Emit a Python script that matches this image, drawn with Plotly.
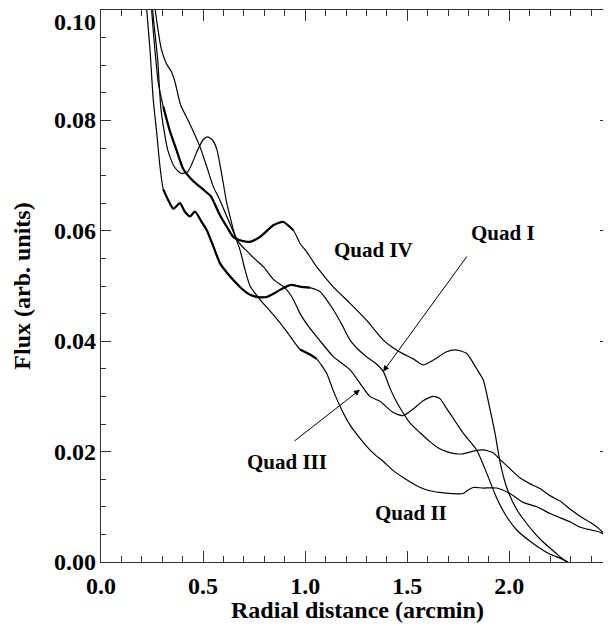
import plotly.graph_objects as go

# ---- data ----
quad4_x = [0.242, 0.248, 0.264, 0.281, 0.305, 0.338, 0.37, 0.403, 0.452, 0.50, 0.539, 0.58, 0.62, 0.648, 0.68,
           0.73, 0.779, 0.844, 0.893, 0.942, 0.975, 1.007, 1.056, 1.136, 1.219, 1.30, 1.383, 1.43, 1.48, 1.53,
           1.578, 1.628, 1.693, 1.742, 1.79, 1.84, 1.872, 1.905, 1.93, 1.954, 1.987, 2.036, 2.08, 2.117, 2.16,
           2.20, 2.24, 2.28]
quad4_y = [0.104, 0.100, 0.0928, 0.0867, 0.0825, 0.078, 0.0746, 0.0712, 0.069, 0.0675, 0.0662, 0.063, 0.0605,
           0.0589, 0.0583, 0.058, 0.0589, 0.061, 0.0616, 0.0601, 0.0577, 0.0562, 0.0535, 0.0499, 0.0469, 0.0438,
           0.0402, 0.0388, 0.0377, 0.0368, 0.0357, 0.0366, 0.0381, 0.0384, 0.0378, 0.0350, 0.0330, 0.0277, 0.0233,
           0.0182, 0.0135, 0.0095, 0.0072, 0.0055, 0.0038, 0.0025, 0.0012, 0.0]

quad1_x = [0.218, 0.224, 0.24, 0.256, 0.273, 0.289, 0.305, 0.33, 0.354, 0.387, 0.41, 0.436, 0.46, 0.49, 0.518,
           0.55, 0.583, 0.615, 0.648, 0.69, 0.73, 0.77, 0.811, 0.85, 0.877, 0.93, 0.975, 1.023, 1.072, 1.105,
           1.138, 1.18, 1.22, 1.26, 1.30, 1.345, 1.383, 1.415, 1.448, 1.48, 1.513, 1.56, 1.611, 1.65, 1.693,
           1.74, 1.774, 1.823, 1.872, 1.921, 1.954, 2.0, 2.05, 2.10, 2.15, 2.2, 2.25, 2.3, 2.35, 2.4, 2.44,
           2.476, 2.495]
quad1_y = [0.104, 0.100, 0.0928, 0.0837, 0.0777, 0.0716, 0.0675, 0.0655, 0.064, 0.065, 0.0635, 0.0626, 0.0635,
           0.0618, 0.0601, 0.0572, 0.0541, 0.0525, 0.0511, 0.0495, 0.0484, 0.048, 0.048, 0.0487, 0.0493, 0.0502,
           0.0499, 0.0497, 0.049, 0.0475, 0.0457, 0.043, 0.0402, 0.0385, 0.0372, 0.036, 0.0345, 0.0315, 0.029,
           0.027, 0.0252, 0.0235, 0.0218, 0.0207, 0.0200, 0.0196, 0.0196, 0.0201, 0.0203, 0.0198, 0.0186, 0.017,
           0.0153, 0.0142, 0.0133, 0.0120, 0.0110, 0.0095, 0.0082, 0.0071, 0.0060, 0.0047, 0.0040]

quad2_x = [0.260, 0.266, 0.295, 0.32, 0.345, 0.362, 0.39, 0.42, 0.452, 0.485, 0.518, 0.55, 0.583, 0.616, 0.648,
           0.681, 0.705, 0.73, 0.78, 0.844, 0.909, 0.975, 1.023, 1.056, 1.105, 1.138, 1.18, 1.22, 1.26, 1.30,
           1.34, 1.383, 1.43, 1.48, 1.546, 1.60, 1.66, 1.72, 1.774, 1.80, 1.823, 1.872, 1.938, 2.003, 2.068,
           2.134, 2.199, 2.25, 2.297, 2.346, 2.40, 2.444, 2.476, 2.495]
quad2_y = [0.104, 0.100, 0.093, 0.0903, 0.0888, 0.087, 0.0828, 0.0805, 0.078, 0.0752, 0.0716, 0.068, 0.0655,
           0.0626, 0.0598, 0.0565, 0.053, 0.050, 0.0475, 0.0448, 0.0418, 0.0385, 0.0376, 0.0368, 0.0342, 0.031,
           0.0275, 0.0248, 0.0228, 0.021, 0.0195, 0.0182, 0.0166, 0.0153, 0.0138, 0.013, 0.0126, 0.0124, 0.0124,
           0.0131, 0.0135, 0.0134, 0.0134, 0.0124, 0.0108, 0.0100, 0.0088, 0.008, 0.0073, 0.0063, 0.0058, 0.0054,
           0.0047, 0.0042]

quad3_x = [0.250, 0.253, 0.278, 0.294, 0.327, 0.359, 0.392, 0.425, 0.473, 0.50, 0.522, 0.545, 0.567, 0.59,
           0.616, 0.632, 0.648, 0.665, 0.69, 0.713, 0.75, 0.795, 0.844, 0.9, 0.94, 0.975, 1.02, 1.07, 1.138,
           1.22, 1.268, 1.317, 1.366, 1.431, 1.48, 1.529, 1.578, 1.628, 1.66, 1.693, 1.735, 1.775, 1.84, 1.889,
           1.938, 1.987, 2.036, 2.1, 2.15, 2.2, 2.248, 2.288]
quad3_y = [0.104, 0.100, 0.0909, 0.0819, 0.0746, 0.0716, 0.0704, 0.0707, 0.0746, 0.0765, 0.077, 0.0765, 0.0748,
           0.0705, 0.065, 0.0626, 0.0602, 0.0585, 0.0572, 0.0564, 0.055, 0.0535, 0.0512, 0.0497, 0.0477, 0.045,
           0.0425, 0.0402, 0.0372, 0.0348, 0.0324, 0.030, 0.0291, 0.0271, 0.0265, 0.0277, 0.0292, 0.030, 0.0296,
           0.0278, 0.0255, 0.0233, 0.0203, 0.0161, 0.0116, 0.0082, 0.0058, 0.0038, 0.0025, 0.0014, 0.0007, 0.0]

x_ticks = [0.0, 0.5, 1.0, 1.5, 2.0]
y_ticks = [0.00, 0.02, 0.04, 0.06, 0.08, 0.10]

FONT = "Liberation Serif"
AX_FONT = dict(family=FONT, size=24, color="black", weight="bold")
fig = go.Figure()

series = [(quad4_x, quad4_y), (quad1_x, quad1_y), (quad2_x, quad2_y), (quad3_x, quad3_y)]
for xs, ys in series:
    fig.add_trace(go.Scatter(x=xs, y=ys, mode="lines",
                             line=dict(color="black", width=1.2, shape="spline", smoothing=0.6),
                             showlegend=False, hoverinfo="skip"))

# noisy stretches drawn heavier
noisy = [(quad4_x, quad4_y, 0.30, 0.95), (quad1_x, quad1_y, 0.30, 1.05), (quad2_x, quad2_y, 0.95, 1.10)]
for xs, ys, a, b in noisy:
    idx = [i for i, v in enumerate(xs) if a <= v <= b]
    fig.add_trace(go.Scatter(x=[xs[i] for i in idx], y=[ys[i] for i in idx], mode="lines",
                             line=dict(color="black", width=2.2, shape="spline", smoothing=0.6),
                             showlegend=False, hoverinfo="skip"))

lab = dict(family=FONT, size=21, color="black", weight="bold")
fig.add_annotation(x=1.337, y=0.0565, text="Quad IV", showarrow=False, font=lab)
fig.add_annotation(x=1.969, y=0.0596, text="Quad I", showarrow=False, font=lab)
fig.add_annotation(x=0.911, y=0.0181, text="Quad III", showarrow=False, font=lab)
fig.add_annotation(x=1.518, y=0.0089, text="Quad II", showarrow=False, font=lab)
# arrows
fig.add_annotation(x=1.382, y=0.0345, ax=1.797, ay=0.0556, axref="x", ayref="y", text="", showarrow=True,
                   arrowhead=2, arrowsize=1.2, arrowwidth=1, arrowcolor="black")
fig.add_annotation(x=1.268, y=0.0312, ax=0.940, ay=0.0217, axref="x", ayref="y", text="", showarrow=True,
                   arrowhead=2, arrowsize=1.2, arrowwidth=1, arrowcolor="black")

# y tick labels (placed as text next to the axis)
for v in y_ticks:
    fig.add_annotation(x=0, xref="paper", y=v, yref="y", text=f"{v:.2f}", showarrow=False,
                       xanchor="right", yanchor="middle", xshift=-3, yshift=(-12 if v == max(y_ticks) else 0),
                       font=AX_FONT)

# x axis title
fig.add_annotation(x=0.5, xref="paper", y=0, yref="paper", text="Radial distance (arcmin)", showarrow=False,
                   xanchor="center", yanchor="middle", yshift=-48, xshift=2, font=AX_FONT)

axis_common = dict(showgrid=False, zeroline=False, showline=True, linecolor="#333", linewidth=1.2,
                   mirror="ticks", ticks="inside", tickcolor="#333", tickwidth=1)
fig.update_xaxes(range=[0, 2.493], tickvals=x_ticks, ticktext=[f"{v:.1f}" for v in x_ticks], ticklen=11,
                 tickfont=AX_FONT, ticklabelstandoff=2,
                 minor=dict(ticks="inside", ticklen=6, dtick=0.1, tickcolor="#333"),
                 **axis_common)
fig.update_yaxes(range=[0, 0.1], tickvals=y_ticks, showticklabels=False, ticklen=10,
                 minor=dict(ticks="inside", ticklen=5, dtick=0.005, tickcolor="#333"),
                 title=dict(text="Flux (arb. units)", font=AX_FONT, standoff=62),
                 **axis_common)
# page body adds an 8px offset, so margins are set in page-relative terms
fig.update_layout(width=611, height=626, margin=dict(l=93, r=9, t=2, b=72),
                  plot_bgcolor="white", paper_bgcolor="white")
fig.write_html("out.html")
